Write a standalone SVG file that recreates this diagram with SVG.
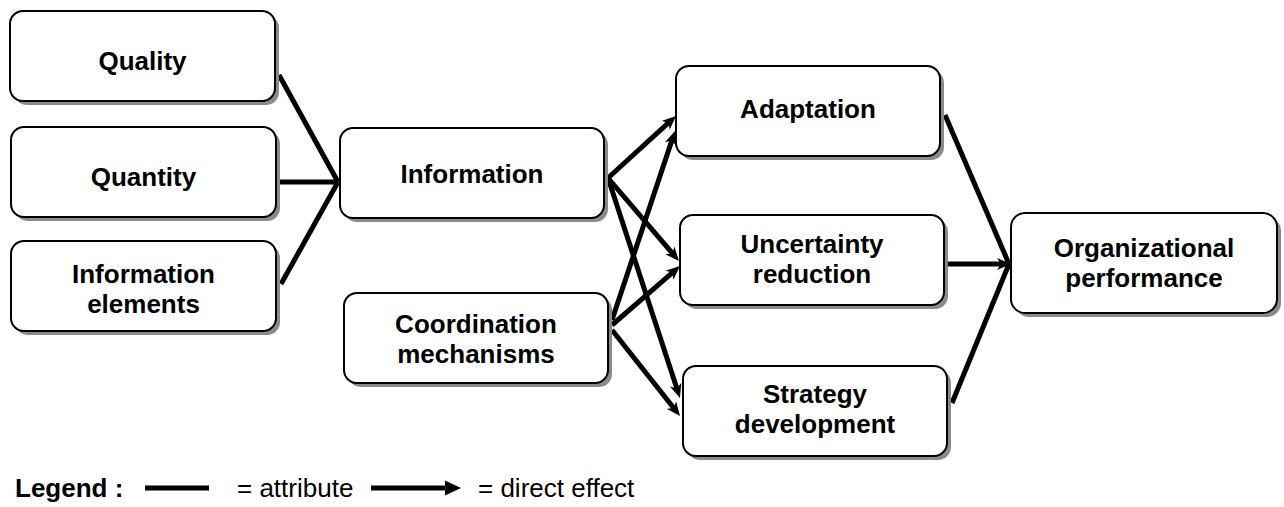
<svg xmlns="http://www.w3.org/2000/svg" width="1284" height="507" viewBox="0 0 1284 507">
<style>
.sh{fill:#8a8a8a;stroke:none}
.bx{fill:#ffffff;stroke:#000000;stroke-width:2}
.t{font-family:"Liberation Sans",Arial,sans-serif;font-weight:bold;font-size:26px;fill:#000;text-anchor:middle}
.ln{stroke:#000;stroke-width:5;fill:none}
.ar{stroke:#000;stroke-width:5;fill:none;marker-end:url(#ah)}
.lg{font-family:"Liberation Sans",Arial,sans-serif;font-size:26px;fill:#000}
</style>
<defs>
<marker id="ah" markerUnits="userSpaceOnUse" markerWidth="16" markerHeight="14" refX="7" refY="7" orient="auto" viewBox="0 0 16 14">
<path d="M0,1 L14,7 L0,13 L4,7 Z" fill="#000"/>
</marker>
</defs>
<rect width="1284" height="507" fill="#ffffff"/>
<g id="connectors">
<line class="ln" x1="279" y1="75" x2="338" y2="182"/>
<line class="ln" x1="278" y1="182" x2="338" y2="182"/>
<line class="ln" x1="281" y1="284" x2="338" y2="182"/>
<line class="ar" x1="608" y1="178" x2="670.8" y2="120.7"/>
<line class="ar" x1="612" y1="320" x2="672.8" y2="137.6"/>
<line class="ar" x1="608" y1="178" x2="674.4" y2="255.7"/>
<line class="ar" x1="612" y1="325" x2="674.7" y2="270.6"/>
<line class="ar" x1="608" y1="178" x2="677.8" y2="391.3"/>
<line class="ar" x1="612" y1="330" x2="675.7" y2="410.5"/>
<line class="ln" x1="945" y1="115" x2="1009" y2="264"/>
<line class="ar" x1="946" y1="264" x2="1004" y2="264"/>
<line class="ln" x1="952" y1="403" x2="1009" y2="264"/>
</g>
<g id="quality">
<rect class="sh" x="14" y="15" width="265" height="90" rx="13"/>
<rect class="bx" x="10" y="11" width="265" height="90" rx="13"/>
<text class="t" x="142.5" y="70">Quality</text>
</g>
<g id="quantity">
<rect class="sh" x="15" y="131" width="265" height="90" rx="13"/>
<rect class="bx" x="11" y="127" width="265" height="90" rx="13"/>
<text class="t" x="143.5" y="186">Quantity</text>
</g>
<g id="information-elements">
<rect class="sh" x="15" y="245" width="265" height="90" rx="13"/>
<rect class="bx" x="11" y="241" width="265" height="90" rx="13"/>
<text class="t" x="143.5" y="283">Information</text>
<text class="t" x="143.5" y="313">elements</text>
</g>
<g id="information">
<rect class="sh" x="344" y="132" width="264" height="90" rx="13"/>
<rect class="bx" x="340" y="128" width="264" height="90" rx="13"/>
<text class="t" x="472" y="183">Information</text>
</g>
<g id="coordination">
<rect class="sh" x="348" y="297" width="264" height="90" rx="13"/>
<rect class="bx" x="344" y="293" width="264" height="90" rx="13"/>
<text class="t" x="476" y="333">Coordination</text>
<text class="t" x="476" y="363">mechanisms</text>
</g>
<g id="adaptation">
<rect class="sh" x="680" y="70" width="264" height="90" rx="13"/>
<rect class="bx" x="676" y="66" width="264" height="90" rx="13"/>
<text class="t" x="808" y="118">Adaptation</text>
</g>
<g id="uncertainty">
<rect class="sh" x="684" y="219" width="264" height="90" rx="13"/>
<rect class="bx" x="680" y="215" width="264" height="90" rx="13"/>
<text class="t" x="812" y="253">Uncertainty</text>
<text class="t" x="812" y="283">reduction</text>
</g>
<g id="strategy">
<rect class="sh" x="687" y="370" width="264" height="90" rx="13"/>
<rect class="bx" x="683" y="366" width="264" height="90" rx="13"/>
<text class="t" x="815" y="403">Strategy</text>
<text class="t" x="815" y="433">development</text>
</g>
<g id="organizational-performance">
<rect class="sh" x="1015" y="217" width="266" height="100" rx="14"/>
<rect class="bx" x="1011" y="213" width="266" height="100" rx="14"/>
<text class="t" x="1144" y="257">Organizational</text>
<text class="t" x="1144" y="287">performance</text>
</g>
<g id="legend">
<text class="lg" x="15" y="497" font-weight="bold">Legend :</text>
<line class="ln" x1="145" y1="488" x2="209" y2="488"/>
<text class="lg" x="237" y="497">= attribute</text>
<line class="ln" x1="371" y1="488" x2="447" y2="488"/>
<path d="M445,480.5 L461,488 L445,495.5 Z" fill="#000"/>
<text class="lg" x="478" y="497">= direct effect</text>
</g>
</svg>
